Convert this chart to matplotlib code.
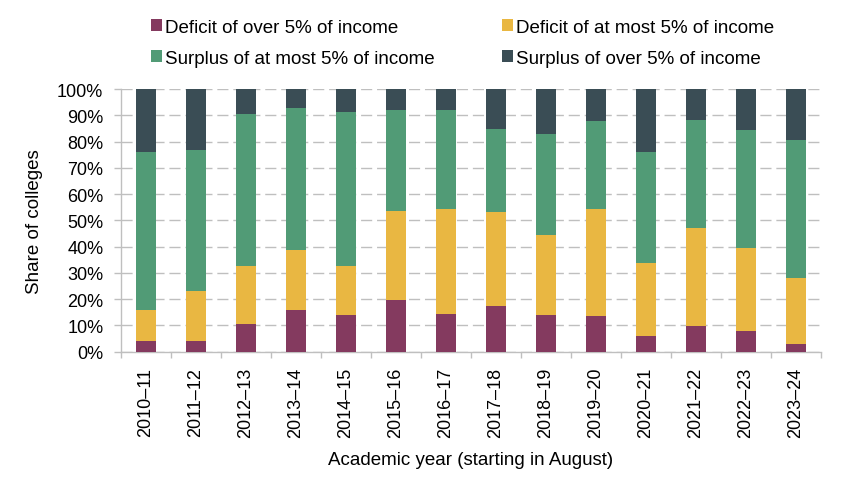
import matplotlib
matplotlib.use("Agg")
import matplotlib.pyplot as plt
from matplotlib.patches import Patch
import numpy as np

plt.rcParams['font.family'] = ['Liberation Sans', 'DejaVu Sans']
plt.rcParams['lines.scale_dashes'] = False

years = ["2010–11", "2011–12", "2012–13", "2013–14", "2014–15", "2015–16", "2016–17",
         "2017–18", "2018–19", "2019–20", "2020–21", "2021–22", "2022–23", "2023–24"]

# shares of colleges (%)
deficit_over5 = [4.2, 3.9, 10.5, 16.0, 13.8, 19.7, 14.2, 17.5, 13.8, 13.7, 5.8, 9.8, 7.9, 2.9]
deficit_upto5 = [11.8, 19.1, 22.0, 22.7, 18.7, 33.9, 40.0, 35.7, 30.5, 40.5, 27.8, 37.4, 31.4, 25.1]
surplus_upto5 = [59.9, 53.9, 58.1, 53.9, 58.7, 38.5, 37.9, 31.7, 38.6, 33.7, 42.3, 41.0, 45.2, 52.5]
surplus_over5 = [24.1, 23.1, 9.4, 7.4, 8.8, 7.9, 7.9, 15.1, 17.1, 12.1, 24.1, 11.8, 15.5, 19.5]

series = [
    ("Deficit of over 5% of income", deficit_over5, "#843A5F"),
    ("Deficit of at most 5% of income", deficit_upto5, "#E9B742"),
    ("Surplus of at most 5% of income", surplus_upto5, "#519B76"),
    ("Surplus of over 5% of income", surplus_over5, "#3A4D55"),
]

W, H = 848, 489
fig = plt.figure(figsize=(W / 100, H / 100), dpi=100)
ax = fig.add_axes([120.7 / W, 1 - 352.7 / H, 700 / W, (352.7 - 90) / H])

x = np.arange(len(years))
bottom = np.zeros(len(years))
for name, vals, col in series:
    v = np.array(vals) / 100.0
    ax.bar(x, v, width=0.4, bottom=bottom, color=col, zorder=3, linewidth=0)
    bottom += v

ax.set_xlim(-0.5, len(years) - 0.5)
ax.set_ylim(0, 1.0)
ax.set_yticks(np.arange(0, 1.01, 0.1))
ax.set_yticklabels([f"{int(round(t * 100))}%" for t in np.arange(0, 1.01, 0.1)])
ax.yaxis.grid(True, color="#BFBFBF", linewidth=1.0, linestyle=(0, (8, 3.5)), zorder=0)
ax.set_axisbelow(True)

ax.set_xticks(x)
ax.set_xticklabels(years, rotation=90)
ax.set_xticks(np.arange(-0.5, len(years), 1.0), minor=True)
ax.tick_params(axis="x", which="major", length=0, pad=11, labelsize=13)
ax.tick_params(axis="x", which="minor", length=4.5, color="#BFBFBF", width=1.0)
ax.tick_params(axis="y", length=5, color="#BFBFBF", width=1.0, pad=7.5, labelsize=13)

for s in ["top", "right"]:
    ax.spines[s].set_visible(False)
for s in ["left", "bottom"]:
    ax.spines[s].set_color("#BFBFBF")
    ax.spines[s].set_linewidth(1.0)

ax.set_ylabel("Share of colleges", fontsize=13.5, labelpad=10)
ax.set_xlabel("Academic year (starting in August)", fontsize=13.5, labelpad=10)

handles = [Patch(facecolor=c, edgecolor="none") for _, _, c in series]
labels = [n for n, _, _ in series]
order = [0, 2, 1, 3]
fig.legend([handles[i] for i in order], [labels[i] for i in order],
           ncol=2, loc="upper left", bbox_to_anchor=(151 / W, 1 - 20 / H),
           frameon=False, fontsize=13.5, handlelength=0.6, handleheight=0.6,
           handletextpad=0.15, columnspacing=3.6, labelspacing=0.72, borderpad=0,
           borderaxespad=0)

fig.savefig("out.png", dpi=100)
